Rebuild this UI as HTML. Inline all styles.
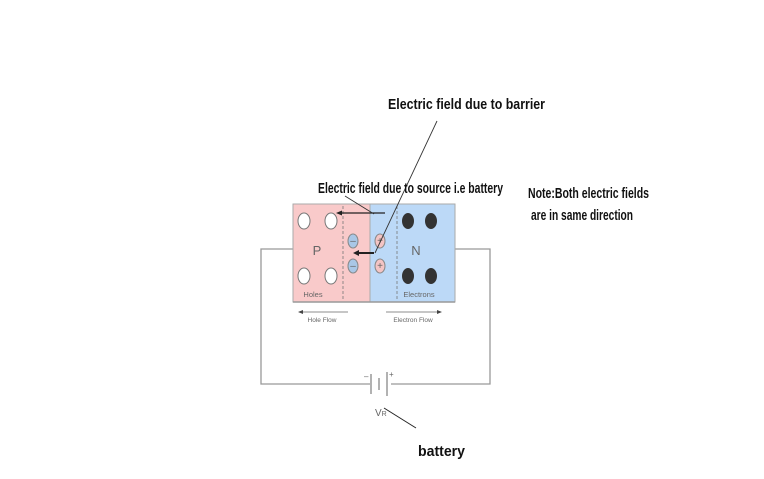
<!DOCTYPE html>
<html><head><style>
html,body{margin:0;padding:0;background:#fff;}
svg{display:block}
.t{font-family:"Liberation Sans",sans-serif;font-weight:bold;fill:#111;}
.s{font-family:"Liberation Sans",sans-serif;fill:#666;}
</style></head><body>
<svg width="764" height="479" viewBox="0 0 764 479" xmlns="http://www.w3.org/2000/svg">
<rect width="764" height="479" fill="#fff"/>
<polyline points="293,249 261,249 261,384 370,384" fill="none" stroke="#999" stroke-width="1.3"/>
<polyline points="455,249 490,249 490,384 391,384" fill="none" stroke="#999" stroke-width="1.3"/>
<line x1="371" y1="374" x2="371" y2="394" stroke="#888" stroke-width="1.3"/>
<line x1="379" y1="378" x2="379" y2="390" stroke="#888" stroke-width="1.3"/>
<line x1="387" y1="372" x2="387" y2="396" stroke="#888" stroke-width="1.3"/>
<text x="364" y="379" class="s" font-size="8">–</text>
<text x="389" y="377" class="s" font-size="8">+</text>
<text x="375" y="416" class="s" font-size="10" fill="#557">V<tspan font-size="7">R</tspan></text>
<line x1="384" y1="408" x2="416" y2="428" stroke="#222" stroke-width="1"/>
<text x="418" y="456" class="t" font-size="15" textLength="47" lengthAdjust="spacingAndGlyphs">battery</text>
<rect x="293" y="204" width="77" height="98" fill="#f9caca" stroke="#aaa"/>
<rect x="370" y="204" width="85" height="98" fill="#bcd9f7" stroke="#aaa"/>
<line x1="343" y1="206" x2="343" y2="300" stroke="#777" stroke-dasharray="3,2" stroke-width="0.8"/>
<line x1="397" y1="206" x2="397" y2="300" stroke="#777" stroke-dasharray="3,2" stroke-width="0.8"/>
<line x1="293" y1="302" x2="455" y2="302" stroke="#999" stroke-width="1.5"/>
<g fill="#fff" stroke="#777">
<ellipse cx="304" cy="221" rx="6" ry="8"/><ellipse cx="331" cy="221" rx="6" ry="8"/>
<ellipse cx="304" cy="276" rx="6" ry="8"/><ellipse cx="331" cy="276" rx="6" ry="8"/>
</g>
<g fill="#333">
<ellipse cx="408" cy="221" rx="6" ry="8"/><ellipse cx="431" cy="221" rx="6" ry="8"/>
<ellipse cx="408" cy="276" rx="6" ry="8"/><ellipse cx="431" cy="276" rx="6" ry="8"/>
</g>
<g stroke="#888">
<ellipse cx="353" cy="241" rx="5" ry="7" fill="#a9c7e6"/><ellipse cx="353" cy="266" rx="5" ry="7" fill="#a9c7e6"/>
<ellipse cx="380" cy="241" rx="5" ry="7" fill="#f4c4c4"/><ellipse cx="380" cy="266" rx="5" ry="7" fill="#f4c4c4"/>
</g>
<g class="s" font-size="10" text-anchor="middle" fill="#555">
<text x="353" y="244">–</text><text x="353" y="269">–</text>
<text x="380" y="244">+</text><text x="380" y="269">+</text>
</g>
<text x="317" y="255" class="s" font-size="13" text-anchor="middle" fill="#333">P</text>
<text x="416" y="255" class="s" font-size="13" text-anchor="middle" fill="#333">N</text>
<text x="313" y="297" class="s" font-size="7.5" text-anchor="middle" fill="#889">Holes</text>
<text x="419" y="297" class="s" font-size="7.5" text-anchor="middle" fill="#889">Electrons</text>
<line x1="300" y1="312" x2="348" y2="312" stroke="#666" stroke-width="0.8"/>
<polygon points="298,312 303,310 303,314" fill="#444"/>
<text x="322" y="322" class="s" font-size="6.5" text-anchor="middle">Hole Flow</text>
<line x1="386" y1="312" x2="440" y2="312" stroke="#666" stroke-width="0.8"/>
<polygon points="442,312 437,310 437,314" fill="#444"/>
<text x="413" y="322" class="s" font-size="6.5" text-anchor="middle">Electron Flow</text>
<line x1="385" y1="213" x2="340" y2="213" stroke="#222" stroke-width="1.3"/>
<polygon points="336,213 342,210.5 342,215.5" fill="#222"/>
<line x1="374" y1="253" x2="358" y2="253" stroke="#222" stroke-width="2"/>
<polygon points="353,253 359,250 359,256" fill="#222"/>
<line x1="437" y1="121" x2="375" y2="253" stroke="#333" stroke-width="0.9"/>
<line x1="345" y1="196" x2="374" y2="214" stroke="#333" stroke-width="0.9"/>
<text x="388" y="109" class="t" font-size="15" textLength="157" lengthAdjust="spacingAndGlyphs">Electric field due to barrier</text>
<text x="318" y="193" class="t" font-size="15" textLength="185" lengthAdjust="spacingAndGlyphs">Electric field due to source i.e battery</text>
<text x="528" y="198" class="t" font-size="15" textLength="121" lengthAdjust="spacingAndGlyphs">Note:Both electric fields</text>
<text x="531" y="220" class="t" font-size="15" textLength="102" lengthAdjust="spacingAndGlyphs">are in same direction</text>
</svg>
</body></html>
